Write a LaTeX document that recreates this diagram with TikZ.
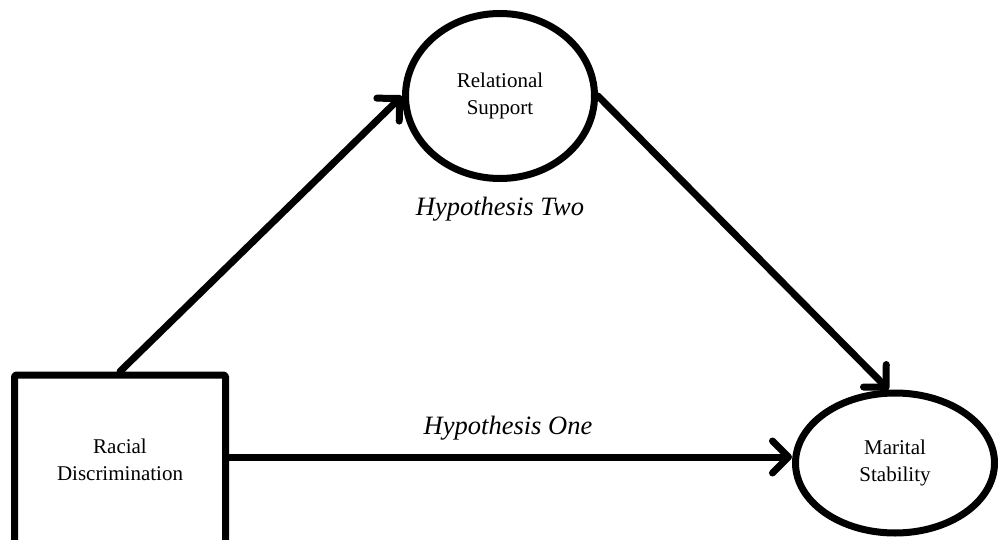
\documentclass[tikz,border=0pt]{standalone}
\usepackage{fontspec}
\setmainfont{Liberation Serif}
\usetikzlibrary{arrows.meta,shapes.geometric}
\begin{document}
\begin{tikzpicture}[x=1pt,y=-1pt,
  thick line/.style={line width=7pt,line join=round},
  conn/.style={thick line,line cap=round,-{Straight Barb[length=16pt,width=32pt,round]}},
  boxnode/.style={draw,thick line,rectangle,rounded corners=1.5pt,minimum width=211pt,minimum height=170pt,inner sep=0pt,align=center,font=\fontsize{21}{27}\selectfont},
  ellnode/.style={draw,thick line,ellipse,inner sep=0pt,align=center,font=\fontsize{21}{27}\selectfont},
  hyp/.style={font=\fontsize{26.5}{30}\selectfont\itshape}]
\useasboundingbox (0,0) rectangle (998,540);
\clip (0,0) rectangle (998,540);
\node[boxnode] (rd) at (120,460) {Racial\\Discrimination};
\node[ellnode,minimum width=189pt,minimum height=165pt] (rs) at (500,96) {Relational\\Support};
\node[ellnode,minimum width=199pt,minimum height=140pt] (ms) at (895,463) {Marital\\Stability};
\draw[conn] (rd.north) -- (rs.west);
\draw[conn] (rs.east) -- (ms.95);
\draw[conn] (rd.east |- 0,457) coordinate (h1) -- (ms.west |- h1);
\node[hyp] (h2) at (500,209) {Hypothesis Two};
\node[hyp] (h1l) at (508,428) {Hypothesis One};
\end{tikzpicture}
\end{document}
